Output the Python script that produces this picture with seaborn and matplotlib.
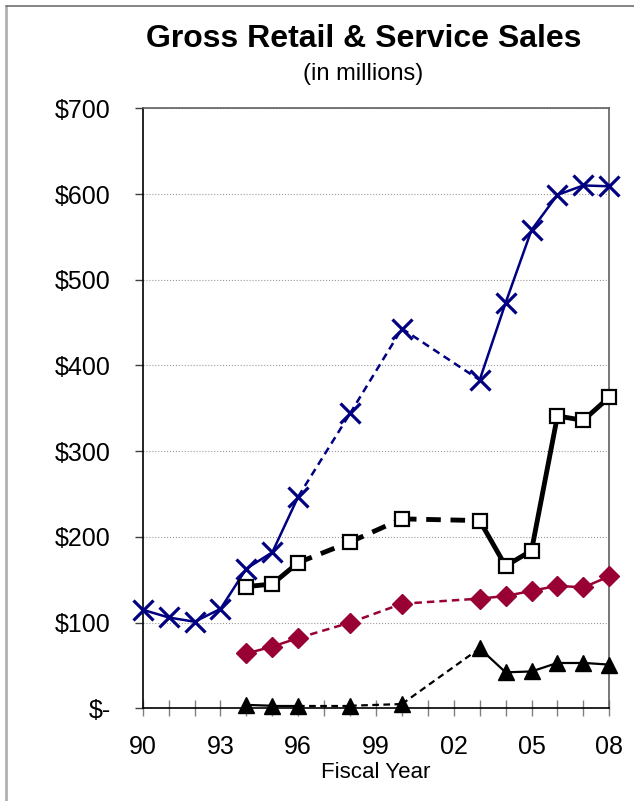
import matplotlib
matplotlib.use("Agg")
import matplotlib.pyplot as plt
import seaborn as sns
import pandas as pd
from matplotlib.lines import Line2D

sns.set_style("white")
plt.rcParams['font.family'] = ['Liberation Sans', 'DejaVu Sans']
plt.rcParams['text.color'] = 'black'
plt.rcParams['xtick.color'] = 'black'
plt.rcParams['ytick.color'] = 'black'
plt.rcParams['axes.labelcolor'] = 'black'

# data (millions of dollars)
years_all = [1990, 1991, 1992, 1993, 1994, 1995, 1996, 1998, 2000, 2003, 2004, 2005, 2006, 2007, 2008]
years_94 = [1994, 1995, 1996, 1998, 2000, 2003, 2004, 2005, 2006, 2007, 2008]
gross_total = [115, 106, 101, 116, 163, 182, 247, 344, 443, 383, 473, 558, 599, 610, 609]
retail = [142, 145, 170, 194, 221, 219, 166, 184, 341, 336, 363]
service = [64, 72, 82, 100, 122, 128, 131, 137, 143, 141, 154]
other = [4, 3, 3, 3, 5, 70, 42, 43, 53, 53, 51]

y_ticks = [0, 100, 200, 300, 400, 500, 600, 700]
y_labels = ["$-", "$100", "$200", "$300", "$400", "$500", "$600", "$700"]
x_label_years = [1990, 1993, 1996, 1999, 2002, 2005, 2008]
x_labels = ["90", "93", "96", "99", "02", "05", "08"]


def segments(years, values):
    # each consecutive pair becomes one segment; solid if years are adjacent, dashed if a gap
    rows = []
    for i in range(len(years) - 1):
        kind = "solid" if years[i + 1] - years[i] == 1 else "gap"
        rows.append({"year": years[i], "value": values[i], "seg": i, "kind": kind})
        rows.append({"year": years[i + 1], "value": values[i + 1], "seg": i, "kind": kind})
    return pd.DataFrame(rows)


fig = plt.figure(figsize=(6.34, 8.01), dpi=100)
ax = fig.add_axes([0.2251, 0.1157, 0.961 - 0.2251, 0.8648 - 0.1157])

series = [
    # values, years, color, lw, dashes, marker, msize, face, mew
    (other, years_94, "black", 1.6, (3, 2), "^", 11.5, "black", 1),
    (service, years_94, "#990033", 1.8, (3, 2), "D", 10.5, "#990033", 1),
    (retail, years_94, "black", 3.5, (3, 2), "s", 10.5, "white", 1.6),
    (gross_total, years_all, "#000080", 1.8, (3, 2), "x", 15, "#000080", 2.3),
]

for vals, yrs, col, lw, dash, mk, ms, face, mew in series:
    seg = segments(yrs, vals)
    sns.lineplot(data=seg, x="year", y="value", units="seg", style="kind",
                 dashes={"solid": "", "gap": dash}, estimator=None, color=col,
                 linewidth=lw, legend=False, ax=ax, sort=False)
    ax.plot(yrs, vals, linestyle="none", marker=mk, markersize=ms,
            markerfacecolor=face, markeredgecolor=col, markeredgewidth=mew,
            clip_on=False, zorder=5)

ax.set_xlim(1990, 2008)
ax.set_ylim(0, 700)

ax.set_yticks(y_ticks)
ax.set_yticklabels(y_labels, fontsize=18)
ax.set_xticks(list(range(1990, 2009)))
ax.set_xticklabels([x_labels[x_label_years.index(y)] if y in x_label_years else "" for y in range(1990, 2009)],
                   fontsize=18)
ax.tick_params(axis="x", direction="inout", length=11, width=1, color="#808080", pad=14, bottom=True)
ax.tick_params(axis="y", direction="out", length=6, width=1, color="#404040", pad=17, left=True)

ax.yaxis.grid(True, linestyle=":", color="#999999", linewidth=0.8)
ax.xaxis.grid(False)
ax.set_axisbelow(True)

ax.set_xlabel("Fiscal Year", fontsize=16, labelpad=2)
ax.set_ylabel("")

for side in ["left", "bottom"]:
    ax.spines[side].set_color("black")
    ax.spines[side].set_linewidth(1.2)
for side in ["top", "right"]:
    ax.spines[side].set_color("#606060")
    ax.spines[side].set_linewidth(1.2)

fig.text(0.573, 0.951, "Gross Retail & Service Sales", ha="center", va="center",
         fontsize=23, fontweight="bold")
fig.text(0.573, 0.907, "(in millions)", ha="center", va="center", fontsize=17)

# outer chart border (only top and left are visible in the crop)
fig.add_artist(Line2D([6 / 634, 6 / 634], [0, 1 - 6 / 801], transform=fig.transFigure,
                      color="#b0b0b0", linewidth=2))
fig.add_artist(Line2D([6 / 634, 1], [1 - 6 / 801, 1 - 6 / 801], transform=fig.transFigure,
                      color="#707070", linewidth=1.2))

fig.savefig("out.png", dpi=100)
